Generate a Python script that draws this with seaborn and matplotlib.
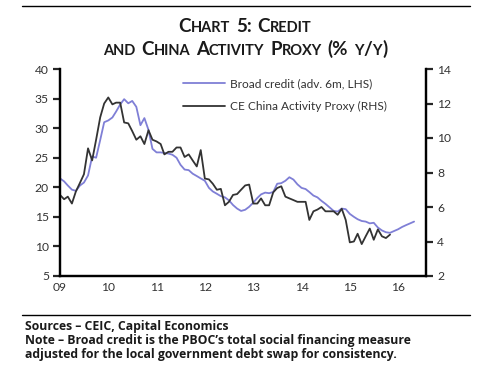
import matplotlib
matplotlib.use('Agg')
import matplotlib.pyplot as plt
import matplotlib.dates as mdates
from matplotlib.lines import Line2D
import seaborn as sns
import pandas as pd

# broad credit, % y/y, advanced 6 months (LHS), Jan 2009 - May 2016
broad_credit = [
    21.5, 21.0, 20.3, 19.6, 19.4, 20.3, 20.8, 22.0, 25.2, 25.0, 28.0, 31.0,
    31.3, 31.8, 32.8, 34.0, 34.9, 34.2, 34.6, 33.6, 30.5, 31.7, 29.7, 26.5,
    25.9, 25.9, 25.8, 25.7, 25.5, 25.0, 23.8, 23.0, 22.9, 22.3, 21.9, 21.5,
    21.1, 19.9, 19.3, 18.9, 18.5, 18.3, 17.8, 17.0, 16.4, 16.0, 16.2, 16.7,
    17.4, 18.2, 18.8, 19.1, 19.0, 19.2, 20.6, 20.7, 21.1, 21.7, 21.3, 20.5,
    19.9, 19.7, 19.2, 18.6, 18.3, 17.7, 17.2, 16.6, 16.0, 15.9, 16.4, 16.3,
    15.5, 15.0, 14.6, 14.3, 14.2, 13.9, 14.0, 13.2, 12.7, 12.4, 12.3, 12.6,
    12.9, 13.3, 13.6, 13.9, 14.2,
]

# CE China Activity Proxy, % y/y (RHS), Jan 2009 - Nov 2015
activity_proxy = [
    6.7, 6.45, 6.6, 6.2, 6.9, 7.4, 7.9, 9.4, 8.7, 9.9, 11.2, 12.0,
    12.35, 11.95, 12.05, 12.05, 10.9, 10.85, 10.4, 9.9, 10.1, 9.65, 10.45, 9.9,
    9.8, 9.65, 9.05, 9.2, 9.2, 9.45, 9.45, 8.9, 9.05, 8.7, 8.35, 9.3,
    7.65, 7.6, 7.35, 7.0, 7.05, 6.1, 6.3, 6.7, 6.75, 7.0, 7.25, 7.3,
    6.2, 6.2, 6.5, 6.1, 6.1, 6.85, 7.1, 7.2, 6.6, 6.5, 6.4, 6.3,
    6.3, 6.3, 5.25, 5.75, 5.85, 6.0, 5.75, 5.75, 5.75, 5.55, 5.9, 5.25,
    3.95, 4.0, 4.45, 3.85, 4.3, 4.75, 4.1, 4.7, 4.3, 4.2, 4.4,
]

left_ticks = [5, 10, 15, 20, 25, 30, 35, 40]
right_ticks = [2, 4, 6, 8, 10, 12, 14]

credit_label = 'Broad credit (adv. 6m, LHS)'
proxy_label = 'CE China Activity Proxy (RHS)'

credit_df = pd.DataFrame({
    'date': pd.date_range('2009-01-01', periods=len(broad_credit), freq='MS'),
    'value': broad_credit,
})
proxy_df = pd.DataFrame({
    'date': pd.date_range('2009-01-01', periods=len(activity_proxy), freq='MS'),
    'value': activity_proxy,
})

sns.set_style('white')
plt.rcParams['font.family'] = ['Lato', 'DejaVu Sans']

W, H = 484, 374
fig = plt.figure(figsize=(W / 100, H / 100), dpi=100)
ax = fig.add_axes([60 / W, 1 - 276 / H, 366 / W, 207 / H])
ax2 = ax.twinx()

sns.lineplot(data=credit_df, x='date', y='value', ax=ax, color='#7f7fd6', lw=1.3)
sns.lineplot(data=proxy_df, x='date', y='value', ax=ax2, color='#333333', lw=1.3)

ax.set_ylim(5, 40)
ax.set_yticks(left_ticks)
ax2.set_ylim(2, 14)
ax2.set_yticks(right_ticks)
ax.set_xlim(pd.Timestamp('2009-01-01'), pd.Timestamp('2016-07-30'))
ax.xaxis.set_major_locator(mdates.YearLocator())
ax.xaxis.set_major_formatter(mdates.DateFormatter('%y'))

for a in (ax, ax2):
    a.set_xlabel('')
    a.set_ylabel('')
    a.spines['top'].set_visible(False)
    for s in ('left', 'right', 'bottom'):
        a.spines[s].set_linewidth(1.6)
        a.spines[s].set_color('black')

ax.tick_params(axis='y', direction='out', length=5, width=1.6, labelsize=8.7,
               labelcolor='#333333', pad=3)
ax2.tick_params(axis='y', direction='out', length=5, width=1.6, labelsize=8.7,
                labelcolor='#333333', pad=3)
ax.tick_params(axis='x', direction='in', length=4, width=1.6, labelsize=8.7,
               labelcolor='#333333', pad=4)

handles = [Line2D([], [], color='#7f7fd6', lw=1.3), Line2D([], [], color='#333333', lw=1.3)]
ax2.legend(handles, [credit_label, proxy_label], loc='upper left',
           bbox_to_anchor=(183 / W, 1 - 78 / H), bbox_transform=fig.transFigure,
           frameon=False, borderpad=0, borderaxespad=0, fontsize=8.6,
           handlelength=3.5, handletextpad=0.45, labelspacing=1.0,
           labelcolor='#333333')


def small_caps(text, yc, big, small, cx=245):
    renderer = fig.canvas.get_renderer()
    runs = []
    for ch in text:
        kind = 'space' if ch == ' ' else ('small' if ch.islower() else 'big')
        if runs and runs[-1][0] == kind:
            runs[-1][1] += ch
        else:
            runs.append([kind, ch])
    probe1 = fig.text(0, 0, 'I I', fontsize=big, weight='bold')
    probe2 = fig.text(0, 0, 'II', fontsize=big, weight='bold')
    space_w = probe1.get_window_extent(renderer).width - probe2.get_window_extent(renderer).width
    probe1.remove()
    probe2.remove()
    items = []
    total = 0
    for kind, s in runs:
        if kind == 'space':
            items.append((None, len(s) * space_w * 1.3))
            total += len(s) * space_w * 1.3
            continue
        t = fig.text(0, 1 - yc / H, s.upper(), fontsize=big if kind == 'big' else small,
                     weight='bold', color='#1a1a1a', va='baseline')
        w = t.get_window_extent(renderer).width
        items.append((t, w))
        total += w
    x = cx - total / 2
    for t, w in items:
        if t is not None:
            t.set_x(x / W)
        x += w


small_caps('Chart 5: Credit', 32, 13.5, 10.5)
small_caps('and China Activity Proxy (% y/y)', 55, 13.5, 10.5)

fig.add_artist(Line2D([22 / W, 470 / W], [1 - 6 / H] * 2, transform=fig.transFigure,
                      color='black', lw=1.0))
fig.add_artist(Line2D([22 / W, 470 / W], [1 - 315 / H] * 2, transform=fig.transFigure,
                      color='black', lw=1.0))

note = ('Sources \u2013 CEIC, Capital Economics\n'
        'Note \u2013 Broad credit is the PBOC\u2019s total social financing measure\n'
        'adjusted for the local government debt swap for consistency.')
fig.text(25 / W, 1 - 320 / H, note, fontsize=8.8, weight='bold', color='#1a1a1a',
         va='top', linespacing=1.12, family=['Open Sans', 'DejaVu Sans'])

fig.savefig('out.png', dpi=100)
